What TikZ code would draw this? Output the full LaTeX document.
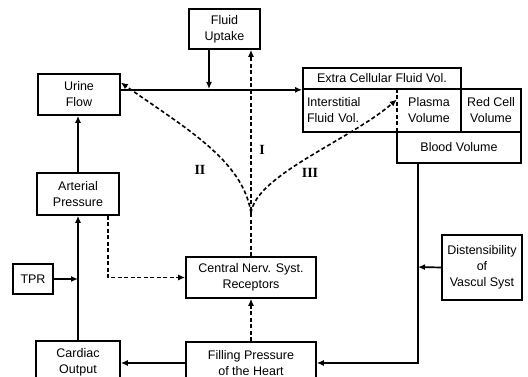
\documentclass[tikz,border=0pt]{standalone}
\usepackage{fontspec}
\setmainfont{Liberation Sans}
\newfontfamily\numfont{Liberation Serif}
\usetikzlibrary{arrows.meta}
\begin{document}
\begin{tikzpicture}[
    x=1pt, y=-1pt,
    every node/.style={font=\fontsize{12.5}{16}\selectfont, align=center},
    box/.style={draw, line width=1.7pt, inner sep=2pt},
    cell/.style={inner sep=2pt},
    arr/.style={line width=1.7pt, -{Latex[length=7pt,width=6pt]}},
    darr/.style={line width=1.6pt, dash pattern=on 4pt off 2.5pt, -{Latex[length=7pt,width=6pt]}},
    numlbl/.style={font=\numfont\fontsize{14}{15}\selectfont\bfseries}
]
\useasboundingbox (0,0) rectangle (528,377);

% Kasten
\node[box, minimum width=71pt, minimum height=40pt] (fluid) at (224.5,29) {Fluid\\Uptake};
\node[box, minimum width=82pt, minimum height=41pt] (urine) at (79,94.5) {Urine\\Flow};
\node[box, minimum width=82pt, minimum height=42pt] (arterial) at (78,194) {Arterial\\Pressure};
\node[box, minimum width=40pt, minimum height=30pt] (tpr) at (33,279) {TPR};
\node[box, minimum width=84pt, minimum height=42pt] (cardiac) at (78,362) {Cardiac\\Output};
\node[box, minimum width=130pt, minimum height=41pt] (cns) at (251,277.5) {Central Nerv. Syst.\\Receptors};
\node[box, minimum width=130pt, minimum height=42pt] (filling) at (251,363) {Filling Pressure\\of the Heart};
\node[box, minimum width=80pt, minimum height=65pt] (dist) at (482,267.5) {Distensibility\\of\\Vascul Syst};

% Fluessigkeitsraeume
\node[box, minimum width=158pt, minimum height=21pt] (ecf) at (382,78.5) {Extra Cellular Fluid Vol.};
\node[cell, inner sep=4pt, text width=86pt, align=left, minimum height=43pt] (inter) at (350,110.5) {Interstitial\\Fluid Vol.};
\node[cell, minimum width=64pt, minimum height=43pt] (plasma) at (429,110.5) {Plasma\\Volume};
\node[cell, minimum width=60pt, minimum height=43pt] (redcell) at (491,110.5) {Red Cell\\Volume};
\node[box, minimum width=124pt, minimum height=31pt] (blood) at (459,147.5) {Blood Volume};
\draw[line width=1.7pt] (inter.north west) rectangle (redcell.south east);
\draw[line width=1.7pt] (plasma.north east) -- (plasma.south east);
\draw[line width=1.5pt, dash pattern=on 4pt off 2.5pt] (plasma.north west) -- (plasma.south west);

% Hilfspunkte
\coordinate (uj) at (209,89);
\coordinate (bj) at (418,267);
\coordinate (fork) at (251,213);

% Verbindungen
\draw[arr] (urine.east |- ecf.south) -- (ecf.south west);
\draw[arr] (fluid.south -| uj) -- (uj);
\draw[arr] (arterial.north) -- (arterial.north |- urine.south);
\draw[arr] (cardiac.north) -- (cardiac.north |- arterial.south);
\draw[arr] (tpr.east) -- (tpr.east -| cardiac.north);
\draw[arr] (filling.west) -- (filling.west -| cardiac.east);
\draw[arr] (blood.south -| bj) |- (filling.east);
\draw[arr] (dist.west) -- (bj);
\draw[darr] ([xshift=-12pt]arterial.south east) |- (cns.west);
\draw[darr] (filling.north) -- (cns.south);

% Rueckkopplung I, II, III
\draw[darr] (cns.north) -- (cns.north |- fluid.south);
\draw[darr] (fork) .. controls (243,160) and (185,128) .. ([yshift=12pt]urine.east);
\draw[darr] (fork) .. controls (256,175) and (350,140) .. ([yshift=11pt]plasma.west);
\node[numlbl] (lI) at (262,150) {I};
\node[numlbl] (lII) at (200,170) {II};
\node[numlbl] (lIII) at (310,173) {III};
\end{tikzpicture}
\end{document}
